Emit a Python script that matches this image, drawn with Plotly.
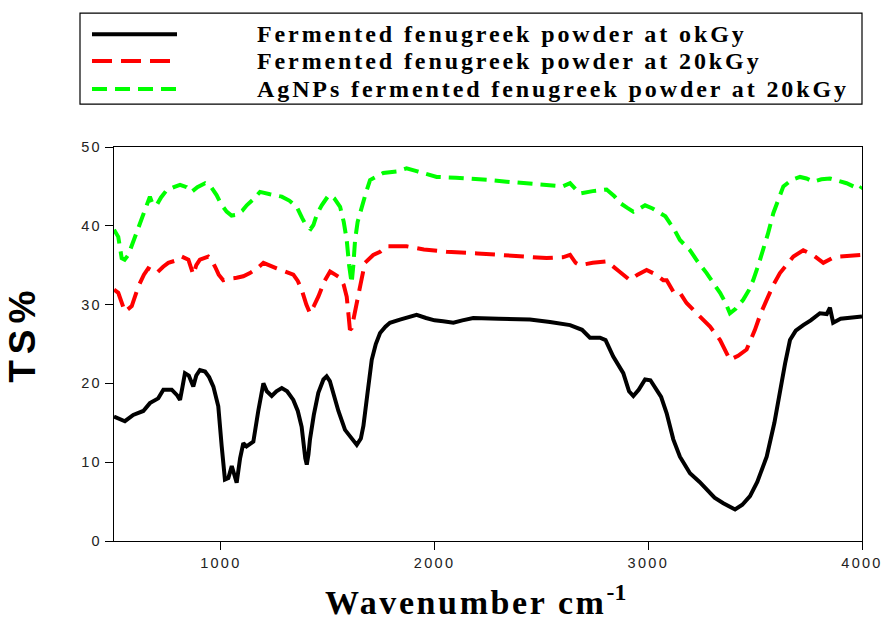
import plotly.graph_objects as go

# ---- data ----
black_x = [500, 530, 551, 590, 637, 668, 707, 731, 770, 795, 809, 820, 832, 850, 871, 885, 902, 926, 945, 965,
           988, 1004, 1019, 1035, 1051, 1062, 1074, 1090, 1105, 1120, 1152, 1175, 1199, 1215, 1238, 1260, 1285,
           1310, 1339, 1360, 1378, 1395, 1402, 1410, 1417, 1435, 1456, 1480, 1495, 1510, 1526, 1550, 1581, 1610,
           1636, 1655, 1667, 1685, 1706, 1725, 1745, 1770, 1791, 1838, 1880, 1916, 1960, 2000, 2040, 2088, 2130,
           2181, 2300, 2446, 2540, 2634, 2690, 2727, 2774, 2800, 2836, 2860, 2883, 2910, 2930, 2955, 2985, 3010,
           3039, 3060, 3086, 3100, 3117, 3148, 3195, 3240, 3273, 3310, 3351, 3380, 3406, 3440, 3476, 3510, 3554,
           3590, 3616, 3640, 3663, 3690, 3725, 3760, 3803, 3835, 3850, 3865, 3900, 3944, 4000]
black_y = [15.8, 15.5, 15.2, 16.0, 16.5, 17.5, 18.1, 19.2, 19.2, 18.5, 17.9, 19.5, 21.3, 21.0, 19.6, 21.0, 21.7,
           21.5, 20.8, 19.6, 17.1, 12.0, 7.8, 8.0, 9.5, 8.5, 7.4, 10.5, 12.4, 12.0, 12.6, 16.5, 20.0, 19.0, 18.4,
           19.0, 19.4, 19.0, 17.9, 16.5, 14.5, 10.5, 9.7, 11.0, 12.9, 16.0, 18.8, 20.5, 20.9, 20.3, 18.8, 16.5,
           14.1, 13.0, 12.2, 13.0, 14.6, 18.5, 23.0, 25.0, 26.4, 27.2, 27.7, 28.1, 28.4, 28.7, 28.3, 28.0, 27.9,
           27.7, 28.0, 28.3, 28.2, 28.1, 27.8, 27.4, 26.8, 25.8, 25.8, 25.5, 23.4, 22.3, 21.3, 19.0, 18.4, 19.2,
           20.5, 20.4, 19.2, 18.3, 16.2, 14.5, 12.9, 10.7, 8.6, 7.5, 6.5, 5.5, 4.8, 4.4, 4.0, 4.6, 5.7, 7.5, 10.7,
           15.0, 19.2, 22.5, 25.5, 26.7, 27.4, 28.0, 28.9, 28.8, 29.6, 27.7, 28.2, 28.3, 28.5]

red_x = [500, 520, 551, 583, 614, 640, 660, 699, 730, 754, 790, 817, 848, 862, 871, 885, 902, 941, 960, 973, 990,
         1011, 1040, 1074, 1105, 1136, 1170, 1199, 1230, 1261, 1300, 1339, 1360, 1378, 1400, 1417, 1435, 1456,
         1485, 1511, 1535, 1558, 1575, 1589, 1598, 1604, 1612, 1620, 1643, 1674, 1713, 1745, 1776, 1838, 1869,
         1950, 2056, 2200, 2337, 2430, 2524, 2600, 2634, 2660, 2680, 2740, 2805, 2860, 2914, 2950, 2992, 3030,
         3070, 3086, 3120, 3148, 3179, 3230, 3289, 3336, 3360, 3382, 3420, 3460, 3499, 3525, 3554, 3585, 3616,
         3650, 3679, 3725, 3770, 3819, 3860, 3897, 3950, 4000]
red_y = [31.9, 31.5, 29.1, 29.8, 32.3, 33.8, 34.6, 34.0, 34.8, 35.3, 35.6, 36.1, 35.7, 34.5, 33.8, 35.0, 35.7,
         36.1, 35.5, 34.8, 33.8, 33.1, 33.3, 33.4, 33.6, 34.0, 34.6, 35.3, 34.9, 34.6, 34.2, 33.8, 33.0, 31.9,
         30.0, 28.9, 29.8, 31.0, 33.0, 34.2, 33.8, 33.4, 32.5, 31.0, 28.5, 26.8, 27.0, 28.1, 31.5, 35.3, 36.3,
         36.7, 37.4, 37.4, 37.4, 37.0, 36.7, 36.5, 36.3, 36.1, 35.9, 36.0, 36.3, 35.3, 35.0, 35.3, 35.5, 34.3,
         33.1, 33.8, 34.4, 33.9, 33.1, 33.1, 31.5, 31.5, 30.2, 28.8, 27.2, 25.5, 24.2, 23.0, 23.5, 24.3, 26.8,
         28.8, 30.6, 32.5, 34.0, 35.2, 36.1, 36.9, 36.3, 35.3, 35.9, 36.1, 36.2, 36.3]

green_x = [500, 520, 536, 550, 567, 590, 606, 625, 645, 668, 680, 699, 720, 746, 780, 809, 840, 863, 890, 926,
           955, 980, 1000, 1027, 1050, 1074, 1100, 1121, 1150, 1183, 1230, 1285, 1320, 1355, 1380, 1402, 1420,
           1433, 1450, 1472, 1500, 1511, 1530, 1558, 1575, 1589, 1600, 1612, 1620, 1628, 1640, 1659, 1680, 1698,
           1730, 1760, 1822, 1869, 1920, 2010, 2100, 2181, 2260, 2337, 2430, 2524, 2600, 2634, 2660, 2680, 2740,
           2805, 2840, 2868, 2900, 2930, 2960, 2985, 3020, 3055, 3080, 3102, 3120, 3148, 3195, 3230, 3273, 3310,
           3336, 3360, 3382, 3410, 3444, 3470, 3491, 3515, 3538, 3560, 3585, 3610, 3632, 3670, 3710, 3740, 3772,
           3810, 3850, 3890, 3928, 3960, 3990, 4000]
green_y = [39.5, 38.6, 35.9, 35.7, 36.3, 38.0, 39.1, 40.5, 42.0, 43.7, 42.8, 42.6, 43.6, 44.5, 44.9, 45.2, 44.9,
           44.3, 44.9, 45.4, 44.9, 43.9, 42.8, 41.8, 41.3, 41.4, 41.9, 42.6, 43.3, 44.3, 44.0, 43.7, 43.2, 42.4,
           41.0, 39.9, 39.6, 40.1, 41.5, 42.6, 43.7, 43.9, 43.5, 42.4, 40.5, 38.2, 35.0, 32.7, 35.0, 38.2, 40.5,
           42.4, 44.3, 45.8, 46.3, 46.7, 46.9, 47.3, 46.9, 46.2, 46.1, 46.0, 45.8, 45.6, 45.4, 45.2, 45.0, 45.4,
           44.6, 44.1, 44.4, 44.6, 43.8, 42.9, 42.3, 41.8, 42.2, 42.6, 42.2, 41.6, 41.2, 40.3, 39.6, 38.2, 36.9,
           35.5, 34.0, 32.5, 31.5, 30.3, 28.9, 29.5, 30.6, 31.8, 33.1, 35.0, 36.9, 39.0, 41.6, 43.5, 45.0, 45.8,
           46.2, 46.0, 45.6, 45.9, 46.0, 45.7, 45.4, 45.0, 44.6, 45.0]

series_names = ["Fermented fenugreek powder at okGy",
                "Fermented fenugreek powder at 20kGy",
                "AgNPs fermented fenugreek powder at 20kGy"]

x_tickvals = [1000, 2000, 3000, 4000]
y_tickvals = [0, 10, 20, 30, 40, 50]

# ---- styling ----
colors = ["#000000", "#ff0000", "#00ff00"]
dashes = ["solid", "20px,9px", "15px,8px"]
widths = [4, 4, 4]

L, R, T, B = 114, 24, 147, 77.5
W, H = 886, 619
pw, ph = W - L - R, H - T - B


def px2paper(px, py):
    return (px - L) / pw, (H - B - py) / ph


def spaced(txt, sp):
    return f'<span style="letter-spacing:{sp}px">{txt}</span>'


fig = go.Figure()
for xs, ys, name, c, d, w in zip([black_x, red_x, green_x], [black_y, red_y, green_y],
                                 series_names, colors, dashes, widths):
    fig.add_trace(go.Scatter(x=xs, y=ys, mode="lines", name=name, showlegend=False,
                             line=dict(color=c, width=w, dash=d)))

tickfont = dict(family="Liberation Sans, Arial", size=14.5, color="#222")
fig.update_xaxes(range=[500, 4000], tickvals=x_tickvals,
                 ticktext=[spaced(str(v), 2.3) for v in x_tickvals],
                 ticks="outside", ticklen=8, tickwidth=1.2, tickcolor="#000",
                 showline=True, linecolor="#000", linewidth=1.3, mirror=True, automargin=False,
                 showgrid=False, zeroline=False, tickfont=tickfont)
fig.update_yaxes(range=[0, 50], tickvals=y_tickvals,
                 ticktext=[spaced(str(v), 2.3) for v in y_tickvals],
                 ticks="outside", ticklen=8, tickwidth=1.2, tickcolor="#000",
                 showline=True, linecolor="#000", linewidth=1.3, mirror=True, automargin=False,
                 showgrid=False, zeroline=False, tickfont=tickfont)

shapes = []
annotations = []
# legend box
bx0, by0 = px2paper(80, 104)
bx1, by1 = px2paper(862, 13)
shapes.append(dict(type="rect", xref="paper", yref="paper", x0=bx0, y0=by0, x1=bx1, y1=by1,
                   line=dict(color="#000", width=1.2), fillcolor="white", layer="above"))
rows_py = [34, 61, 89]
for name, c, d, w, py in zip(series_names, colors, dashes, widths, rows_py):
    lx0, ly = px2paper(92, py)
    lx1, _ = px2paper(177, py)
    shapes.append(dict(type="line", xref="paper", yref="paper", x0=lx0, x1=lx1, y0=ly, y1=ly,
                       line=dict(color=c, width=w, dash=d), layer="above"))
    tx, _ = px2paper(255, py)
    annotations.append(dict(xref="paper", yref="paper", x=tx, y=ly, xanchor="left", yanchor="middle",
                            showarrow=False, text="<b>" + spaced(name, 2.9) + "</b>",
                            font=dict(family="Liberation Serif, Times New Roman", size=24, color="#000")))

# axis titles
ax, ay = px2paper(475, 601)
annotations.append(dict(xref="paper", yref="paper", x=ax, y=ay, xanchor="center", yanchor="middle",
                        showarrow=False, text="<b>" + spaced("Wavenumber cm", 2.6) + "<sup>-1</sup></b>",
                        font=dict(family="Liberation Serif, Times New Roman", size=34, color="#000")))
tx_, ty_ = px2paper(23, 334)
annotations.append(dict(xref="paper", yref="paper", x=tx_, y=ty_, xanchor="center", yanchor="middle",
                        showarrow=False, textangle=-90, text="<b>" + spaced("TS%", 6) + "</b>",
                        font=dict(family="Liberation Sans, Arial", size=37, color="#000")))

fig.update_layout(width=W, height=H, margin=dict(l=L, r=R, t=T, b=B, autoexpand=False),
                  paper_bgcolor="white", plot_bgcolor="white",
                  shapes=shapes, annotations=annotations, showlegend=False)
fig.write_html("out.html")
